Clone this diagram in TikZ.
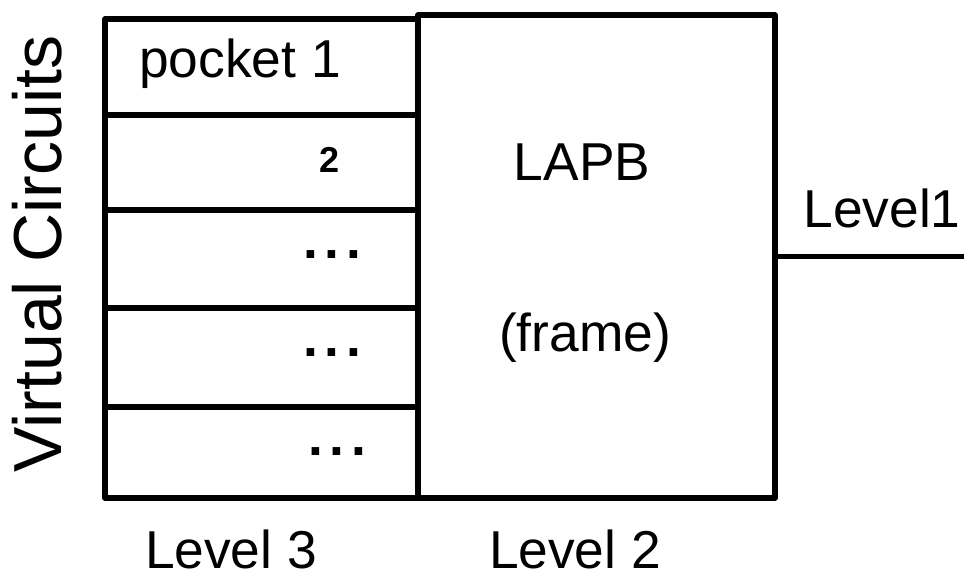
\documentclass[tikz,border=0pt]{standalone}
\usepackage{fontspec}
\setmainfont{Liberation Sans}
\begin{document}
\begin{tikzpicture}[x=0.75pt,y=-0.75pt,
  cell/.style={draw,line width=4pt,line join=round,inner sep=0pt,outer sep=0pt,
    minimum width=234.75pt},
  bigbox/.style={draw,line width=4pt,line join=round,inner sep=0pt,outer sep=0pt,
    minimum width=267.75pt,minimum height=362.25pt},
  wire/.style={line width=4pt,line cap=round},
  txt/.style={inner sep=0pt,font=\fontsize{40}{48}\selectfont},
  small/.style={inner sep=0pt,font=\fontsize{27}{32}\selectfont\bfseries},
  dots/.style={inner sep=0pt,font=\fontsize{40}{48}\selectfont\bfseries},
  side/.style={inner sep=0pt,font=\fontsize{51}{60}\selectfont,rotate=90}]
\useasboundingbox (0,0) rectangle (964,579);

% stack of virtual-circuit cells (level 3)
\node[cell,minimum height=72pt]    (c1) at (261.5,67)    {};
\node[cell,minimum height=71.25pt] (c2) at (261.5,162.5) {};
\node[cell,minimum height=73.5pt]  (c3) at (261.5,259)   {};
\node[cell,minimum height=74.25pt] (c4) at (261.5,357.5) {};
\node[cell,minimum height=68.25pt] (c5) at (261.5,452.5) {};

% link-level box (level 2)
\node[bigbox] (lapb) at (596.5,256.5) {};

% physical line (level 1)
\coordinate (wireend) at (964,256.5);
\draw[wire] (lapb.east) -- (wireend);

% cell labels
\node[txt,anchor=base] (p1) at (240,77) {pocket 1};
\node[small] (p2) at (330,160) {2};
\node[dots] (d3) at (332,255) {.\hspace{5pt}.\hspace{5pt}.};
\node[dots] (d4) at (332,353) {.\hspace{5pt}.\hspace{5pt}.};
\node[dots] (d5) at (337,452) {.\hspace{5pt}.\hspace{5pt}.};

% box labels
\node[txt,anchor=base] (lapbt) at (582,180) {LAPB};
\node[txt] (frame) at (585,338) {(frame)};
\node[txt,anchor=base] (lev1) at (882,227) {Level1};
\node[txt,anchor=base] (lev3) at (231,568) {Level 3};
\node[txt,anchor=base] (lev2) at (575,568) {Level 2};
\node[side] (vc) at (37,254) {Virtual Circuits};
\end{tikzpicture}
\end{document}
